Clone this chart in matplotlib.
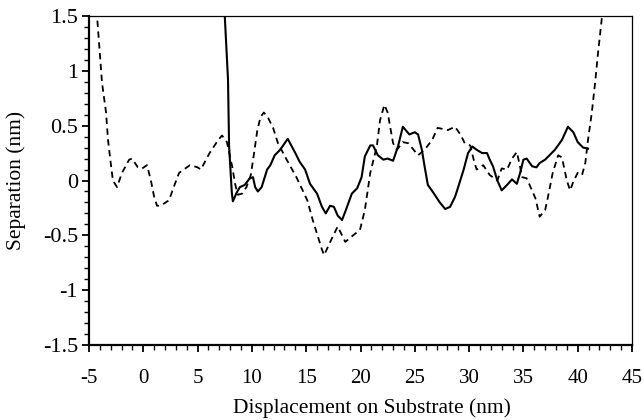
import matplotlib
matplotlib.use("Agg")
import matplotlib.pyplot as plt
from matplotlib.ticker import MultipleLocator

plt.rcParams['font.family'] = ['Liberation Serif', 'DejaVu Serif']

# dashed series
dash_x = [-4.6, -4.26, -3.8, -3.43, -3.25, -3.0, -2.8, -2.42, -1.96, -1.3, -1.04, -0.5, -0.1, 0.34,
          0.7, 1.0, 1.26, 1.6, 2.37, 2.8, 3.3, 4.3, 5.0, 5.3, 6.1, 6.9, 7.25, 7.7, 8.2, 8.45, 8.7,
          9.1, 9.5, 9.9, 10.2, 10.5, 10.8, 11.1, 11.5, 11.95, 12.4, 13.2, 14.1, 15.1, 15.6, 16.45,
          16.65, 17.4, 17.9, 18.6, 19.2, 19.95, 20.4, 20.9, 21.5, 21.8, 22.2, 22.5, 23.0, 23.35,
          23.9, 24.4, 25.3, 25.9, 26.6, 27.1, 28.05, 28.7, 29.2, 29.6, 30.1, 30.5, 30.7, 31.3,
          31.9, 32.6, 33.0, 33.5, 33.95, 34.4, 34.9, 35.3, 36.1, 36.5, 37.0, 37.2, 37.7, 38.2,
          38.55, 39.0, 39.3, 39.6, 40.0, 40.4, 40.7, 40.95, 41.3, 41.6, 41.9, 42.2, 42.4]
dash_y = [2.1, 1.5, 0.89, 0.62, 0.37, 0.16, 0.0, -0.06, 0.07, 0.19, 0.2, 0.12, 0.11, 0.14,
          0.0, -0.15, -0.23, -0.23, -0.18, -0.06, 0.07, 0.14, 0.12, 0.1, 0.25, 0.37, 0.41, 0.35,
          0.12, -0.03, -0.13, -0.12, -0.06, 0.05, 0.25, 0.46, 0.58, 0.62, 0.57, 0.48, 0.34, 0.19,
          0.03, -0.18, -0.36, -0.63, -0.68, -0.52, -0.42, -0.56, -0.51, -0.45, -0.27, 0.07, 0.31,
          0.55, 0.69, 0.62, 0.34, 0.28, 0.35, 0.34, 0.23, 0.28, 0.37, 0.48, 0.46, 0.49, 0.42,
          0.34, 0.32, 0.16, 0.1, 0.14, 0.05, 0.0, 0.11, 0.1, 0.2, 0.26, 0.03, 0.02, -0.16, -0.33,
          -0.27, -0.18, 0.07, 0.23, 0.21, 0.0, -0.09, -0.01, 0.07, 0.05, 0.16, 0.37, 0.62, 0.89,
          1.19, 1.46, 1.7]

# solid series
solid_x = [7.45, 7.8, 7.9, 8.15, 8.25, 8.6, 8.9, 9.35, 9.8, 10.1, 10.3, 10.55, 10.9, 11.4,
           11.7, 12.1, 12.6, 13.3, 14.0, 14.4, 14.9, 15.35, 16.0, 16.45, 16.8, 17.2, 17.55,
           17.9, 18.3, 18.65, 19.2, 19.7, 20.1, 20.4, 20.9, 21.15, 21.6, 22.1, 22.5, 23.0,
           23.45, 23.9, 24.5, 25.0, 25.3, 25.65, 25.9, 26.2, 26.7, 27.3, 27.8, 28.25, 28.7,
           28.9, 29.5, 29.9, 30.3, 30.7, 31.2, 31.65, 31.9, 32.2, 32.6, 33.0, 33.5, 33.95,
           34.4, 34.7, 35.0, 35.3, 35.8, 36.2, 36.5, 37.0, 37.2, 37.9, 38.55, 39.1, 39.6,
           40.0, 40.5, 40.95]
solid_y = [1.6, 0.92, 0.31, -0.11, -0.19, -0.11, -0.06, -0.04, 0.02, 0.03, -0.06, -0.1,
           -0.06, 0.1, 0.14, 0.23, 0.28, 0.38, 0.25, 0.17, 0.1, -0.03, -0.12, -0.24, -0.3,
           -0.23, -0.24, -0.32, -0.36, -0.27, -0.12, -0.07, 0.03, 0.22, 0.32, 0.32, 0.23,
           0.19, 0.2, 0.18, 0.31, 0.49, 0.42, 0.44, 0.42, 0.28, 0.13, -0.04, -0.11, -0.2,
           -0.26, -0.24, -0.15, -0.09, 0.1, 0.25, 0.31, 0.28, 0.25, 0.25, 0.19, 0.13, 0.0,
           -0.09, -0.04, 0.01, -0.03, 0.07, 0.19, 0.2, 0.13, 0.12, 0.16, 0.19, 0.21, 0.28,
           0.37, 0.49, 0.44, 0.35, 0.3, 0.29]

x_ticks = [-5, 0, 5, 10, 15, 20, 25, 30, 35, 40, 45]
y_ticks = [-1.5, -1, -0.5, 0, 0.5, 1, 1.5]
x_ticklabels = ['-5', '0', '5', '10', '15', '20', '25', '30', '35', '40', '45']
y_ticklabels = ['-1.5', '-1', '-0.5', '0', '0.5', '1', '1.5']

fig = plt.figure(figsize=(6.44, 4.2), dpi=100)
ax = fig.add_axes([89/644, 75/420, (632-89)/644, (345-16)/420])

ax.plot(dash_x, dash_y, color='black', lw=1.3, dashes=(3.5, 2.5))
ax.plot(solid_x, solid_y, color='black', lw=1.5, solid_joinstyle='round')

ax.set_xlim(-5, 45)
ax.set_ylim(-1.5, 1.5)
ax.set_xticks(x_ticks)
ax.set_xticklabels(x_ticklabels)
ax.set_yticks(y_ticks)
ax.set_yticklabels(y_ticklabels)
ax.xaxis.set_minor_locator(MultipleLocator(1))
ax.yaxis.set_minor_locator(MultipleLocator(0.1))

ax.tick_params(axis='both', which='major', direction='out', length=5, width=1.3,
               colors='black')
ax.tick_params(axis='x', which='major', labelsize=15, pad=12)
ax.tick_params(axis='y', which='major', labelsize=16, pad=3)
ax.tick_params(axis='both', which='minor', direction='out', length=3.5, width=1.0)

for s in ['left', 'bottom']:
    ax.spines[s].set_linewidth(1.6)
for s in ['top', 'right']:
    ax.spines[s].set_linewidth(0.9)

ax.set_xlabel('Displacement on Substrate (nm)', fontsize=15.5, labelpad=8)
ax.xaxis.label.set_x(0.521)
ax.set_ylabel('Separation (nm)', fontsize=15.5, labelpad=12)

fig.savefig('out.png', dpi=100)
